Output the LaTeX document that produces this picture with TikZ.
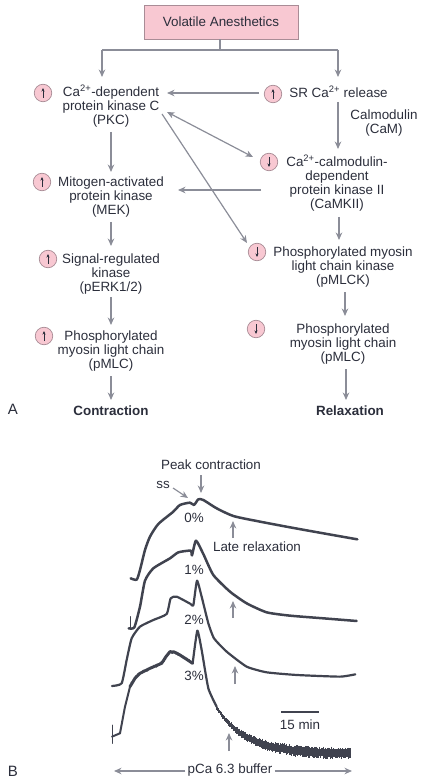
\documentclass[tikz,border=0pt]{standalone}
\usepackage{fontspec}
\setmainfont{Liberation Sans}
\usetikzlibrary{arrows.meta,decorations.pathmorphing}
\definecolor{ink}{HTML}{2B2E3B}
\definecolor{arrowgray}{HTML}{8B8D98}
\definecolor{boxpink}{HTML}{F8C8D2}
\definecolor{boxedge}{HTML}{A98C96}
\definecolor{tracegray}{HTML}{40434F}
\tikzset{
  label/.style={text=ink,align=center,inner sep=0pt,font=\fontsize{13.4}{14}\selectfont},
  strong/.style={label,font=\fontsize{13.4}{14}\selectfont\bfseries},
  conn/.style={draw=arrowgray,line width=1.2pt,-{Stealth[length=7.5pt,width=6.5pt]}},
  both/.style={draw=arrowgray,line width=1.2pt,{Stealth[length=7.5pt,width=6.5pt]}-{Stealth[length=7.5pt,width=6.5pt]}},
  plain/.style={draw=arrowgray,line width=1.2pt},
  badge/.style={circle,draw=boxedge,fill=boxpink,line width=.7pt,minimum size=17.5pt,inner sep=0pt},
  upb/.style={badge,path picture={\draw[ink,line width=.6pt,-{Stealth[length=3.5pt,width=3pt]}] (path picture bounding box.center)+(0,5) -- +(0,-5);}},
  dnb/.style={badge,path picture={\draw[ink,line width=.6pt,-{Stealth[length=3.5pt,width=3pt]}] (path picture bounding box.center)+(0,-5) -- +(0,5);}},
  trace/.style={draw=tracegray,line width=2.3pt,line join=round,line cap=round},
}
\begin{document}
\begin{tikzpicture}[x=1pt,y=-1pt]
\useasboundingbox (0,0) rectangle (424,783);
% Panel A nodes
\node[draw=boxedge,fill=boxpink,line width=.8pt,minimum width=154pt,minimum height=34pt,inner sep=0pt,label,draw=boxedge] (va) at (221,22) {Volatile Anesthetics};
\coordinate (split) at (220,50);
\coordinate (splitl) at (102,50);
\coordinate (splitr) at (338,50);
\node[label] (pkc) at (111,106) {Ca\textsuperscript{2+}-dependent\\protein kinase C\\(PKC)};
\node[upb] (bpkc) at (43,93) {};
\node[label] (sr) at (338.5,92) {SR Ca\textsuperscript{2+} release};
\node[upb] (bsr) at (273,94) {};
\node[label] (cam) at (384,123) {Calmodulin\\(CaM)};
\node[label] (camk) at (337,183) {Ca\textsuperscript{2+}-calmodulin-\\dependent\\protein kinase II\\(CaMKII)};
\node[dnb] (bcamk) at (269,162) {};
\node[label] (mek) at (111,197) {Mitogen-activated\\protein kinase\\(MEK)};
\node[upb] (bmek) at (42,182) {};
\node[label] (erk) at (111,274) {Signal-regulated\\kinase\\(pERK1/2)};
\node[upb] (berk) at (48,259) {};
\node[label] (mlcl) at (111,351) {Phosphorylated\\myosin light chain\\(pMLC)};
\node[upb] (bmlcl) at (44,336) {};
\node[label] (mlck) at (343,267) {Phosphorylated myosin\\light chain kinase\\(pMLCK)};
\node[dnb] (bmlck) at (257,252) {};
\node[label] (mlcr) at (343,344) {Phosphorylated\\myosin light chain\\(pMLC)};
\node[dnb] (bmlcr) at (256,329) {};
\node[strong] (con) at (111,411) {Contraction};
\node[strong] (rel) at (350,411) {Relaxation};
\node[label,font=\fontsize{15}{16}\selectfont] (pa) at (13,409) {A};
% Panel A connectors
\draw[plain] (va.south -| split) -- (split);
\draw[plain] (splitl) -- (splitr);
\draw[conn] (splitl) -- ([shift={(-9,-29)}]pkc.center);
\draw[conn] (splitr) -- ([shift={(-0.5,-15)}]sr.center);
\draw[conn] ([shift={(-14,-1)}]bsr.center) -- ([shift={(56,-13)}]pkc.center);
\draw[conn] ([shift={(-0.5,10)}]sr.center) -- ([shift={(1,-34)}]camk.center);
\draw[both] ([shift={(56,6)}]pkc.center) -- ([shift={(-84,-26)}]camk.center);
\draw[conn] ([shift={(51,8)}]pkc.center) -- ([shift={(-96,-24)}]mlck.center);
\draw[conn] ([shift={(-76,7)}]camk.center) -- ([shift={(67,-7)}]mek.center);
\draw[conn] ([shift={(0,26)}]pkc.center) -- ([shift={(0,-25)}]mek.center);
\draw[conn] ([shift={(0,25)}]mek.center) -- ([shift={(0,-28)}]erk.center);
\draw[conn] ([shift={(0,23)}]erk.center) -- ([shift={(0,-26)}]mlcl.center);
\draw[conn] ([shift={(0,25)}]mlcl.center) -- ([shift={(0,-11)}]con.center);
\draw[conn] ([shift={(2,34)}]camk.center) -- ([shift={(-4,-27)}]mlck.center);
\draw[conn] ([shift={(2,25)}]mlck.center) -- ([shift={(2,-28)}]mlcr.center);
\draw[conn] ([shift={(3,25)}]mlcr.center) -- ([shift={(-4,-11)}]rel.center);
% Panel B labels
\node[label] (peak) at (211,465) {Peak contraction};
\node[label] (ss) at (163,485) {ss};
\node[label] (p0) at (194,518) {0\%};
\node[label] (late) at (257,547) {Late relaxation};
\node[label] (p1) at (194,570) {1\%};
\node[label] (p2) at (194,620) {2\%};
\node[label] (p3) at (194,676) {3\%};
\node[label] (tm) at (300,725) {15 min};
\node[label] (buf) at (230,770) {pCa 6.3 buffer};
\node[label,font=\fontsize{15}{16}\selectfont] (pb) at (13,771) {B};
% Traces, in 3x crop coordinates
\begin{scope}[shift={(90,450)},x=.3333pt,y=-.3333pt]
\draw[trace,line width=2.5pt] plot[smooth,tension=.4] coordinates {(122,385)(140,389)(150,360)(165,300)(180,260)(205,222)(250,185)(270,165)(300,158)(312,165)(325,148)(340,150)(380,175)(430,198)(500,213)(600,232)(700,250)(802,268)};
\draw[trace,line width=2.5pt] plot[smooth,tension=.35] coordinates {(116,535)(133,532)(150,470)(165,392)(190,355)(240,325)(265,307)(302,302)(306,316)(318,272)(340,312)(370,375)(420,425)(470,460)(530,487)(600,497)(700,505)(800,513)};
\draw[trace,line width=.9pt] (122,500) -- (122,535);
\draw[trace,line width=2.2pt] plot[smooth,tension=.3] coordinates {(66,708)(95,700)(110,630)(125,565)(150,530)(190,510)(230,492)(242,445)(260,440)(302,462)(310,466)(321,392)(335,440)(355,520)(372,565)(410,605)(470,650)(530,667)(620,675)(750,680)(796,673)};
% 3 % trace: noisy ascent, peak, heavily noisy tail
\pgfmathsetseed{7}
\draw[trace,line width=.9pt] (66,825) -- (66,880);
\draw[trace,line width=2pt] (66,860) -- (90,850) -- (105,770) -- (120,710);
\draw[trace,line width=3pt] (120,710) -- (135,685) -- (150,670) -- (180,655) -- (215,640) -- (228,620) -- (240,605) -- (255,607) -- (270,615) -- (308,640);
\draw[trace,line width=.6pt,line cap=butt,decorate,decoration={random steps,segment length=.9pt,amplitude=1.6pt}] (120,710) -- (135,685) -- (150,670) -- (180,655) -- (215,640) -- (228,620) -- (240,605) -- (255,607) -- (270,615) -- (308,640);
\draw[trace,line width=2.2pt] plot[smooth,tension=.3] coordinates {(308,640)(322,542)(335,600)(355,715)(380,770)};
\foreach \tx in {380,383,...,782}{
  \pgfmathsetmacro{\ty}{912-140*exp(-(\tx-380)/90)}
  \pgfmathsetmacro{\hw}{(7+13*(1-exp(-(\tx-380)/120)))*(0.55+0.45*rnd)}
  \pgfmathsetmacro{\hv}{(7+13*(1-exp(-(\tx-380)/120)))*(0.55+0.45*rnd)}
  \draw[tracegray,line width=1.15pt] (\tx,\ty-\hw) -- (\tx,\ty+\hv);
}
\end{scope}
% Panel B connectors
\coordinate (latea) at (233,521);
\coordinate (lateb) at (233,601);
\coordinate (latec) at (235,666);
\coordinate (lated) at (229,733);
\coordinate (peaktip) at (201,493);
\coordinate (sstip) at (188,498);
\coordinate (barl) at (281,712);
\coordinate (barr) at (319,712);
\coordinate (bufl) at (114,771);
\coordinate (bufr) at (352,771);
\coordinate (b1) at (233,618);
\coordinate (c1) at (235,684);
\coordinate (d1) at (229,751);
\draw[conn] ([shift={(-10,10)}]peak.center) -- (peaktip);
\draw[conn] ([shift={(10,3)}]ss.center) -- (sstip);
\draw[conn] ([shift={(-24,-9)}]late.center) -- (latea);
\draw[conn] (b1) -- (lateb);
\draw[conn] (c1) -- (latec);
\draw[conn] (d1) -- (lated);
\draw[draw=tracegray,line width=1.8pt] (barl) -- (barr);
\draw[conn] ([shift={(-2,1)}]buf.west) -- (bufl);
\draw[conn] ([shift={(2,1)}]buf.east) -- (bufr);
\end{tikzpicture}
\end{document}
